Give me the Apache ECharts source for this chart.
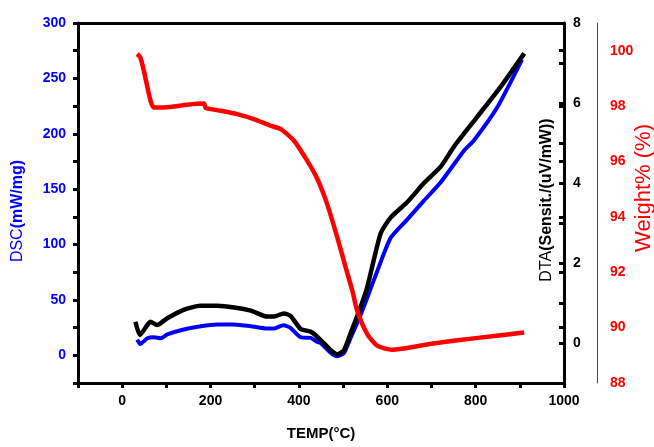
<!DOCTYPE html>
<html>
<head>
<meta charset="utf-8">
<script src="https://cdn.jsdelivr.net/npm/echarts@6/dist/echarts.min.js"></script>
<style>html,body{margin:0;padding:0;background:#fff;}#c{width:654px;height:447px;}</style>
</head>
<body>
<div id="c"></div>
<script>
// DSC (blue, left axis)
var dscTemp = [34, 41, 57, 72, 87, 102, 139, 178, 215, 252, 291, 328, 343, 365, 381, 404, 427, 442, 449, 472, 487, 502, 517, 540, 562, 586, 608, 646, 683, 721, 774, 796, 849, 905];
var dscVal  = [14.2, 10.2, 15.4, 16.3, 15.4, 18.8, 23.3, 26.3, 27.8, 27.8, 26.3, 24.2, 24.2, 27.2, 24.7, 16.3, 15.7, 12, 11.1, 2.1, -0.9, 2.1, 15.7, 36.9, 59.8, 85.2, 106.3, 123, 139.6, 156.2, 184.9, 194, 224, 267];
// DTA (black, right axis)
var dtaTemp = [30, 40, 57, 64, 79, 102, 139, 177, 215, 253, 291, 328, 343, 366, 381, 404, 427, 449, 472, 487, 502, 517, 540, 555, 585, 608, 646, 683, 721, 751, 804, 857, 910];
var dtaVal  = [0.53, 0.2, 0.45, 0.53, 0.45, 0.62, 0.83, 0.93, 0.93, 0.89, 0.81, 0.66, 0.66, 0.74, 0.68, 0.35, 0.28, 0.08, -0.18, -0.28, -0.18, 0.24, 0.91, 1.41, 2.74, 3.14, 3.53, 4.0, 4.41, 4.91, 5.66, 6.41, 7.24];
// Weight % (red, outer right axis)
var wTemp = [34, 41, 49, 64, 72, 109, 147, 185, 189, 223, 260, 298, 336, 359, 389, 419, 442, 464, 487, 506, 521, 532, 555, 578, 610, 700, 800, 910];
var wVal  = [99.88, 99.76, 99.28, 98.2, 97.95, 97.97, 98.05, 98.09, 97.93, 97.83, 97.71, 97.53, 97.29, 97.17, 96.75, 96.02, 95.36, 94.46, 93.25, 92.17, 91.33, 90.6, 89.76, 89.34, 89.2, 89.42, 89.62, 89.82];

var xTicks = [0, 200, 400, 600, 800, 1000];
var dscTicks = [0, 50, 100, 150, 200, 250, 300];
var dtaTicks = [0, 2, 4, 6, 8];
var wTicks = [88, 90, 92, 94, 96, 98, 100];

function pairs(xs, ys) { return xs.map(function (x, i) { return [x, ys[i]]; }); }
function only(list) { return function (v) { return list.indexOf(Math.round(v * 1000) / 1000) >= 0 ? String(v) : ''; }; }

var FONT = 'Liberation Sans, Arial, sans-serif';
var chart = echarts.init(document.getElementById('c'), null, { renderer: 'canvas' });
chart.setOption({
  animation: false,
  backgroundColor: '#fff',
  grid: { left: 78, right: 90, top: 23, bottom: 64, containLabel: false, outerBoundsMode: 'none' },
  xAxis: [{
    type: 'value', min: -100, max: 1000, interval: 100,
    axisLine: { onZero: false, lineStyle: { color: '#000', width: 3 } },
    axisTick: { show: true, length: 5, lineStyle: { color: '#000', width: 3 } },
    splitLine: { show: false },
    axisLabel: { formatter: only(xTicks), color: '#000', fontWeight: 'bold', fontSize: 14, fontFamily: FONT, margin: 11, showMinLabel: true, showMaxLabel: true },
    name: 'TEMP(°C)', nameLocation: 'middle', nameGap: 43, nameMoveOverlap: false,
    nameTextStyle: { color: '#000', fontWeight: 'bold', fontSize: 15, fontFamily: FONT }
  }, {
    type: 'value', position: 'top', min: -100, max: 1000, interval: 100,
    axisLine: { onZero: false, lineStyle: { color: '#000', width: 3 } },
    axisTick: { show: false }, axisLabel: { show: false }, splitLine: { show: false }
  }],
  yAxis: [{
    type: 'value', position: 'left', min: -25, max: 300, interval: 25,
    axisLine: { show: true, onZero: false, lineStyle: { color: '#000', width: 3 } },
    axisTick: { show: true, length: 5, lineStyle: { color: '#000', width: 3 } },
    splitLine: { show: false },
    axisLabel: { formatter: only(dscTicks), color: '#0000ff', fontWeight: 'bold', fontSize: 14, fontFamily: FONT, margin: 12 },
    name: '{a|DSC}{b|(mW/mg)}', nameLocation: 'middle', nameGap: 52, nameRotate: 90, nameMoveOverlap: false,
    nameTextStyle: { padding: [0, 16, 0, 0], rich: {
      a: { color: '#0000ff', fontSize: 16, fontFamily: FONT },
      b: { color: '#0000ff', fontSize: 16, fontWeight: 'bold', fontFamily: FONT } } }
  }, {
    type: 'value', position: 'right', offset: 0, min: -1, max: 8, interval: 1,
    axisLine: { show: true, onZero: false, lineStyle: { color: '#000', width: 3 } },
    axisTick: { show: true, inside: true, length: 5, lineStyle: { color: '#000', width: 3 } },
    splitLine: { show: false },
    axisLabel: { formatter: only(dtaTicks), color: '#000', fontWeight: 'bold', fontSize: 14, fontFamily: FONT, margin: 9 },
    name: '{a|DTA}{b|(Sensit./(uV/mW))}', nameLocation: 'middle', nameGap: -25, nameRotate: 90, nameMoveOverlap: false,
    nameTextStyle: { padding: [0, 0, 0, 6], rich: {
      a: { color: '#000', fontSize: 16, fontFamily: FONT },
      b: { color: '#000', fontSize: 16, fontWeight: 'bold', fontFamily: FONT } } }
  }, {
    type: 'value', position: 'right', offset: 33, min: 88, max: 101, interval: 2,
    axisLine: { show: true, onZero: false, lineStyle: { color: '#ff0000', width: 1 } },
    axisTick: { show: false },
    splitLine: { show: false },
    axisLabel: { formatter: only(wTicks), color: '#ff0000', fontWeight: 'bold', fontSize: 14, fontFamily: FONT, margin: 13 },
    name: 'Weight% (%)', nameLocation: 'middle', nameGap: 36, nameRotate: 90, nameMoveOverlap: false,
    nameTextStyle: { color: '#ff0000', fontSize: 22, fontFamily: FONT, padding: [0, 0, 0, 30] }
  }, {
    type: 'value', position: 'right', offset: 0, min: 88, max: 101, interval: 2,
    axisLine: { show: false, onZero: false },
    axisTick: { show: true, inside: true, length: 5, lineStyle: { color: '#000', width: 3 } },
    axisLabel: { show: false }, splitLine: { show: false }
  }],
  series: [{
    type: 'line', xAxisIndex: 0, yAxisIndex: 0, data: pairs(dscTemp, dscVal),
    showSymbol: false, smooth: 0.2, lineStyle: { color: '#0000ff', width: 4 }, z: 2
  }, {
    type: 'line', xAxisIndex: 0, yAxisIndex: 1, data: pairs(dtaTemp, dtaVal),
    showSymbol: false, smooth: 0.2, lineStyle: { color: '#000', width: 4.5 }, z: 3
  }, {
    type: 'line', xAxisIndex: 0, yAxisIndex: 2, data: pairs(wTemp, wVal),
    showSymbol: false, smooth: 0.2, lineStyle: { color: '#ff0000', width: 4.5 }, z: 4
  }]
});
</script>
</body>
</html>
